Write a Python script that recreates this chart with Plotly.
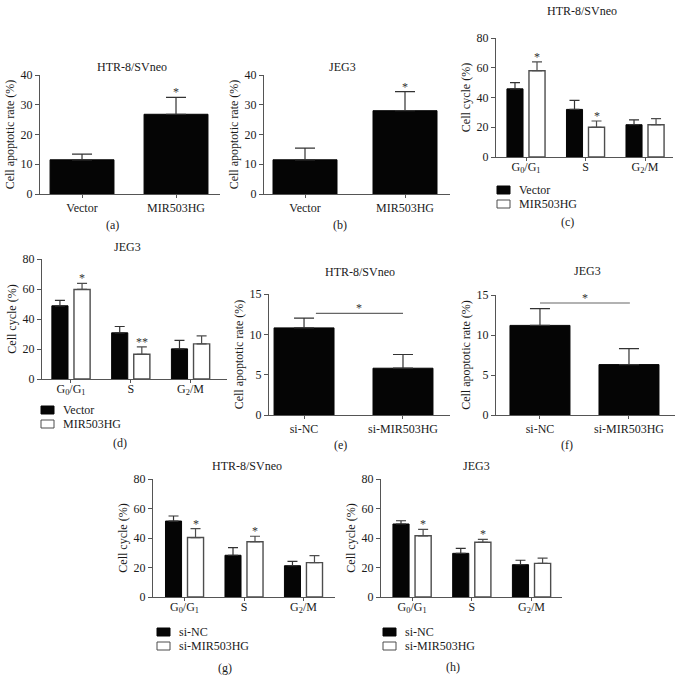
import plotly.graph_objects as go

W, H = 683, 690

# ---------------- data ----------------
oe_groups = ["Vector", "MIR503HG"]
a_mean = [11.5, 26.8]
a_err = [1.9, 5.7]
a_sig = ["", "*"]
b_mean = [11.5, 28.0]
b_err = [3.9, 6.4]
b_sig = ["", "*"]

phases = ["G0/G1", "S", "G2/M"]
phase_ticktext = ["G<sub>0</sub>/G<sub>1</sub>", "S", "G<sub>2</sub>/M"]

c_vector = [45.8, 32.0, 21.7]
c_vector_err = [4.2, 6.0, 3.3]
c_mir = [58.0, 20.0, 21.7]
c_mir_err = [6.0, 4.2, 4.1]
c_sig = ["*", "*", ""]

d_vector = [48.8, 30.8, 20.1]
d_vector_err = [3.6, 4.2, 5.7]
d_mir = [59.7, 16.5, 23.4]
d_mir_err = [4.0, 4.9, 5.3]
d_sig = ["*", "**", ""]

kd_groups = ["si-NC", "si-MIR503HG"]
e_mean = [10.8, 5.8]
e_err = [1.2, 1.7]
f_mean = [11.2, 6.3]
f_err = [2.1, 2.0]

g_nc = [51.5, 28.3, 21.2]
g_nc_err = [3.4, 5.2, 3.0]
g_si = [40.3, 37.5, 23.3]
g_si_err = [6.1, 3.7, 4.7]
g_sig = ["*", "*", ""]

h_nc = [49.5, 29.6, 21.9]
h_nc_err = [2.2, 3.4, 3.0]
h_si = [41.5, 37.1, 22.8]
h_si_err = [4.4, 2.0, 3.6]
h_sig = ["*", "*", ""]

titles = ["HTR-8/SVneo", "JEG3", "HTR-8/SVneo", "JEG3",
          "HTR-8/SVneo", "JEG3", "HTR-8/SVneo", "JEG3"]
panel_tags = ["(a)", "(b)", "(c)", "(d)", "(e)", "(f)", "(g)", "(h)"]
apop_ylabel = "Cell apoptotic rate (%)"
cycle_ylabel = "Cell cycle (%)"

# --------------- styling / layout (pixels of the target picture) ---------------
FONT = "Liberation Serif"
FS = 12
TXT = "#1a1a1a"
AX = "#555555"
WHITE_EDGE = "#4d4d4d"

geo = {
    1: dict(px=(40, 220, 75, 194), xr=(-0.447, 1.468)),
    2: dict(px=(264, 450, 75, 194), xr=(-0.41, 1.45)),
    3: dict(px=(496, 673, 38, 157), xr=(-0.504, 2.47)),
    4: dict(px=(42, 227, 259, 379), xr=(-0.485, 2.61)),
    5: dict(px=(269, 450, 294, 415), xr=(-0.354, 1.475)),
    6: dict(px=(496, 675, 295, 415), xr=(-0.494, 1.517)),
    7: dict(px=(153, 335, 479, 597), xr=(-0.53, 2.53)),
    8: dict(px=(381, 562, 479, 597), xr=(-0.52, 2.51)),
}
title_pos = {1: (132, 67), 2: (342, 67), 3: (582, 11), 4: (127, 247),
             5: (360, 272), 6: (587, 271), 7: (247, 466), 8: (476, 466)}
tag_pos = {1: (112, 225), 2: (340, 225), 3: (567, 222), 4: (120, 443),
           5: (340, 445), 6: (567, 445), 7: (225, 668), 8: (453, 667)}
legend_pos = {3: (497, 190), 4: (41, 410), 7: (157, 632), 8: (383, 632)}

BLACK_OFF, WHITE_OFF, GW = -0.32, 0.05, 0.27

fig = go.Figure()
annotations = []
shapes = []


def ax_names(i):
    return ("x" if i == 1 else f"x{i}"), ("y" if i == 1 else f"y{i}")


def px2paper(x, y):
    return x / W, 1 - y / H


def star(i, x, y, text):
    if not text:
        return
    xa, ya = ax_names(i)
    annotations.append(dict(x=x, y=y, xref=xa, yref=ya, text=text, showarrow=False,
                            yanchor="bottom", yshift=-4,
                            font=dict(family=FONT, size=FS, color="#333333")))


def single_panel(i, cats, vals, errs, width, sig=None):
    xa, ya = ax_names(i)
    fig.add_trace(go.Bar(x=cats, y=vals, width=width, xaxis=xa, yaxis=ya,
                         marker=dict(color="#050505", line=dict(color="#050505", width=1)),
                         error_y=dict(type="data", symmetric=False, array=errs,
                                      arrayminus=[0] * len(errs), color="#333333",
                                      thickness=1.2, width=10),
                         showlegend=False))
    if sig:
        for k, s in enumerate(sig):
            star(i, k, vals[k] + errs[k], s)


def group_panel(i, dark, dark_err, light, light_err, sig):
    xa, ya = ax_names(i)
    fig.add_trace(go.Bar(x=phases, y=dark, width=GW, offset=BLACK_OFF, xaxis=xa, yaxis=ya,
                         marker=dict(color="#050505", line=dict(color="#050505", width=1)),
                         error_y=dict(type="data", symmetric=False, array=dark_err,
                                      arrayminus=[0] * 3, color="#333333",
                                      thickness=1.2, width=5),
                         showlegend=False))
    fig.add_trace(go.Bar(x=phases, y=light, width=GW, offset=WHITE_OFF, xaxis=xa, yaxis=ya,
                         marker=dict(color="white", line=dict(color=WHITE_EDGE, width=1.4)),
                         error_y=dict(type="data", symmetric=False, array=light_err,
                                      arrayminus=[0] * 3, color=WHITE_EDGE,
                                      thickness=1.2, width=5),
                         showlegend=False))
    for k, s in enumerate(sig):
        star(i, k + WHITE_OFF + GW / 2, light[k] + light_err[k], s)


def legend_block(i, names):
    x0, y0 = legend_pos[i]
    for r, (nm, fill) in enumerate(zip(names, ["#050505", "white"])):
        yc = y0 + r * 14
        px0, py0 = px2paper(x0, yc - 4)
        px1, py1 = px2paper(x0 + 13, yc + 4)
        shapes.append(dict(type="rect", xref="paper", yref="paper",
                           x0=px0, x1=px1, y0=py1, y1=py0, fillcolor=fill,
                           line=dict(color="#050505" if r == 0 else WHITE_EDGE, width=1)))
        tx, ty = px2paper(x0 + 20, yc)
        annotations.append(dict(x=tx, y=ty, xref="paper", yref="paper", text=nm,
                                showarrow=False, xanchor="left", yanchor="middle",
                                font=dict(family=FONT, size=FS, color=TXT)))


single_panel(1, oe_groups, a_mean, a_err, 0.68, a_sig)
single_panel(2, oe_groups, b_mean, b_err, 0.64, b_sig)
group_panel(3, c_vector, c_vector_err, c_mir, c_mir_err, c_sig)
group_panel(4, d_vector, d_vector_err, d_mir, d_mir_err, d_sig)
single_panel(5, kd_groups, e_mean, e_err, 0.606)
single_panel(6, kd_groups, f_mean, f_err, 0.674)
group_panel(7, g_nc, g_nc_err, g_si, g_si_err, g_sig)
group_panel(8, h_nc, h_nc_err, h_si, h_si_err, h_sig)

legend_block(3, oe_groups)
legend_block(4, oe_groups)
legend_block(7, kd_groups)
legend_block(8, kd_groups)

# significance brackets for (e) and (f)
sig_lines = {5: dict(x0=0.12, x1=1.0, y=12.6), 6: dict(x0=0.0, x1=1.01, y=14.0)}
for i, s in sig_lines.items():
    xa, ya = ax_names(i)
    shapes.append(dict(type="line", xref=xa, yref=ya, x0=s["x0"], x1=s["x1"],
                       y0=s["y"], y1=s["y"], line=dict(color="#666666", width=1.2)))
    annotations.append(dict(x=(s["x0"] + s["x1"]) / 2, y=s["y"], xref=xa, yref=ya,
                            text="*", showarrow=False, yanchor="bottom", yshift=-4,
                            font=dict(family=FONT, size=FS, color="#333333")))

# titles and panel tags
for i in range(1, 9):
    tx, ty = px2paper(*title_pos[i])
    annotations.append(dict(x=tx, y=ty, xref="paper", yref="paper", text=titles[i - 1],
                            showarrow=False, xanchor="center", yanchor="middle",
                            font=dict(family=FONT, size=FS, color=TXT)))
    gx, gy = px2paper(*tag_pos[i])
    annotations.append(dict(x=gx, y=gy, xref="paper", yref="paper", text=panel_tags[i - 1],
                            showarrow=False, xanchor="center", yanchor="middle",
                            font=dict(family=FONT, size=FS, color=TXT)))

layout = dict(width=W, height=H, margin=dict(l=0, r=0, t=0, b=0),
              paper_bgcolor="white", plot_bgcolor="white", barmode="overlay",
              font=dict(family=FONT, size=FS, color=TXT),
              annotations=annotations, shapes=shapes, showlegend=False)

yinfo = {1: (40, [0, 10, 20, 30, 40], apop_ylabel),
         2: (40, [0, 10, 20, 30, 40], apop_ylabel),
         3: (80, [0, 20, 40, 60, 80], cycle_ylabel),
         4: (80, [0, 20, 40, 60, 80], cycle_ylabel),
         5: (15, [0, 5, 10, 15], apop_ylabel),
         6: (15, [0, 5, 10, 15], apop_ylabel),
         7: (80, [0, 20, 40, 60, 80], cycle_ylabel),
         8: (80, [0, 20, 40, 60, 80], cycle_ylabel)}

for i in range(1, 9):
    xl, xr, yt, yb = geo[i]["px"]
    xa, ya = ax_names(i)
    xkey = "xaxis" if i == 1 else f"xaxis{i}"
    ykey = "yaxis" if i == 1 else f"yaxis{i}"
    dx0, dy_top = px2paper(xl, yt)
    dx1, dy_bot = px2paper(xr, yb)
    xdict = dict(domain=[dx0, dx1], anchor=ya, type="category",
                 range=list(geo[i]["xr"]), showline=True, linecolor=AX, linewidth=1.2,
                 ticks="outside", ticklen=3, tickcolor=AX, tickwidth=1.2,
                 showgrid=False, zeroline=False, automargin=False,
                 tickfont=dict(family=FONT, size=FS, color=TXT), fixedrange=True)
    if i in (3, 4, 7, 8):
        xdict.update(tickmode="array", tickvals=phases, ticktext=phase_ticktext,
                     ticklabelstandoff=-5)
    else:
        xdict.update(ticklabelstandoff=-1)
    ymax, yt_vals, ylab = yinfo[i]
    ydict = dict(domain=[dy_bot, dy_top], anchor=xa, range=[0, ymax],
                 tickmode="array", tickvals=yt_vals, showline=True, linecolor=AX,
                 linewidth=1.2, ticks="outside", ticklen=4, tickcolor=AX, tickwidth=1.2,
                 showgrid=False, zeroline=False, automargin=False,
                 tickfont=dict(family=FONT, size=FS, color=TXT),
                 title=dict(text=ylab, font=dict(family=FONT, size=FS, color=TXT), standoff=3),
                 fixedrange=True)
    layout[xkey] = xdict
    layout[ykey] = ydict

fig.update_layout(**layout)
fig.write_html("out.html", config={"displayModeBar": False},
               post_script="document.body.style.margin='0';document.body.style.overflow='hidden';")
